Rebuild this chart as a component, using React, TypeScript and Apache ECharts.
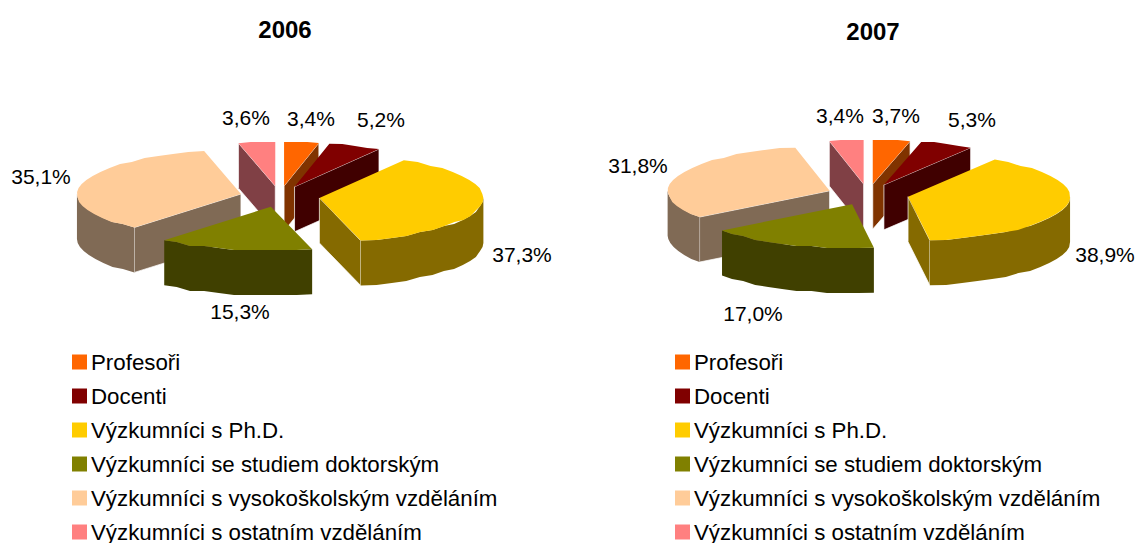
import React, { useEffect, useRef } from "react";
import * as echarts from "echarts";

const categories = [
  "Profesoři",
  "Docenti",
  "Výzkumníci s Ph.D.",
  "Výzkumníci se studiem doktorským",
  "Výzkumníci s vysokoškolským vzděláním",
  "Výzkumníci s ostatním vzděláním",
];
const years = ["2006", "2007"];
const values2006 = [3.4, 5.2, 37.3, 15.3, 35.1, 3.6];
const values2007 = [3.7, 5.3, 38.9, 17.0, 31.8, 3.4];
const valuesByYear = [values2006, values2007];

const topColors = ["#FF6600", "#800000", "#FFCC00", "#808000", "#FFCC99", "#FF8080"];
const sideColors = ["#803300", "#400000", "#856A00", "#404000", "#806A55", "#804045"];

// layout of each pie, in pixels
const pies = [
  { cx: 279.8, cy: 196.5, rx: 164, ry: 44, ex: 40, ey: 10.5, h: 45 },
  { cx: 868, cy: 194.5, rx: 162, ry: 44, ex: 41, ey: 10.5, h: 45 },
];
const labelAnchors = [
  [[311, 118], [381, 119], [522, 254], [240, 311], [41, 176], [246, 117]],
  [[896, 115], [972, 119], [1105, 254], [753, 313], [638, 165], [840, 115]],
];
// painted back to front
const paintOrder = [0, 5, 1, 4, 2, 3];

const rad = (d: number) => (d * Math.PI) / 180;
const snap = (y: number) => Math.round(y / 2) * 2;

function renderSlice(catIdx: number) {
  return (_params: any, api: any) => {
    const pieIdx = api.value(0);
    const vals = valuesByYear[pieIdx];
    const total = vals.reduce((s, v) => s + v, 0);
    const before = vals.slice(0, catIdx).reduce((s, v) => s + v, 0);
    const val = api.value(1);
    const a = (before / total) * 360;
    const b = ((before + val) / total) * 360;
    const mid = (a + b) / 2;
    const p = pies[pieIdx];
    const ax = p.cx + p.ex * Math.sin(rad(mid));
    const ay = p.cy - p.ey * Math.cos(rad(mid));
    const pt = (deg: number, dz = 0): number[] => [
      ax + p.rx * Math.sin(rad(deg)),
      ay - p.ry * Math.cos(rad(deg)) + dz,
    ];
    // the rim of the original is a coarse, slightly stepped outline
    const arc = (from: number, to: number, dz = 0) => {
      const n = Math.max(2, Math.ceil((to - from) / 6));
      const out: number[][] = [];
      for (let i = 0; i <= n; i++) {
        const q = pt(from + ((to - from) * i) / n, dz);
        out.push(i === 0 || i === n ? q : [q[0], snap(q[1] - dz) + dz]);
      }
      return out;
    };
    const side = sideColors[catIdx];
    const children: any[] = [];
    const face = (deg: number) => ({
      type: "polygon",
      shape: {
        points: [[ax, ay], pt(deg), pt(deg, p.h), [ax, ay + p.h]],
      },
      style: { fill: side, stroke: "rgba(255,255,255,0.7)", lineWidth: 1 },
    });
    if (Math.sin(rad(a)) < -0.01) children.push(face(a));
    if (Math.sin(rad(b)) > 0.01) children.push(face(b));
    const f = Math.max(a, 90);
    const t = Math.min(b, 270);
    if (t > f) {
      children.push({
        type: "polygon",
        shape: { points: [...arc(f, t), ...arc(f, t, p.h).reverse()] },
        style: { fill: side },
      });
    }
    children.push({
      type: "polygon",
      shape: { points: [[ax, ay], ...arc(a, b)] },
      style: { fill: topColors[catIdx] },
    });
    const [lx, ly] = labelAnchors[pieIdx][catIdx];
    children.push({
      type: "text",
      x: lx,
      y: ly,
      z2: 100,
      style: {
        text: val.toFixed(1).replace(".", ",") + "%",
        font: '21px "Liberation Sans"',
        fill: "#000",
        align: "center",
        verticalAlign: "middle",
      },
    });
    return { type: "group", children };
  };
}

const legendBase = {
  data: categories,
  orient: "vertical" as const,
  top: 351,
  height: 220,
  icon: "rect",
  itemWidth: 15,
  itemHeight: 15,
  itemGap: 12,
  selectedMode: false,
  padding: 0,
  textStyle: {
    fontFamily: "Liberation Sans",
    fontSize: 22.3,
    color: "#000",
    padding: [0, 0, 0, -1],
  },
};

export default function App() {
  const ref = useRef<HTMLDivElement>(null);
  useEffect(() => {
    const chart = echarts.init(ref.current!, undefined, { renderer: "svg" });
    chart.setOption({
      animation: false,
      backgroundColor: "#fff",
      title: years.map((y, i) => ({
        text: y,
        left: [285, 873][i],
        top: [17, 19][i],
        textAlign: "center",
        padding: 0,
        textStyle: { fontFamily: "Liberation Sans", fontSize: 24, fontWeight: "bold", color: "#000" },
      })),
      legend: [
        { ...legendBase, left: 72 },
        { ...legendBase, left: 675 },
      ],
      series: paintOrder.map((c) => ({
        type: "custom",
        name: categories[c],
        coordinateSystem: "none",
        silent: true,
        itemStyle: { color: topColors[c] },
        renderItem: renderSlice(c),
        data: valuesByYear.map((vals, i) => [i, vals[c]]),
      })),
    });
    return () => chart.dispose();
  }, []);
  return <div ref={ref} style={{ position: "absolute", left: 0, top: 0, width: 1136, height: 543 }} />;
}
